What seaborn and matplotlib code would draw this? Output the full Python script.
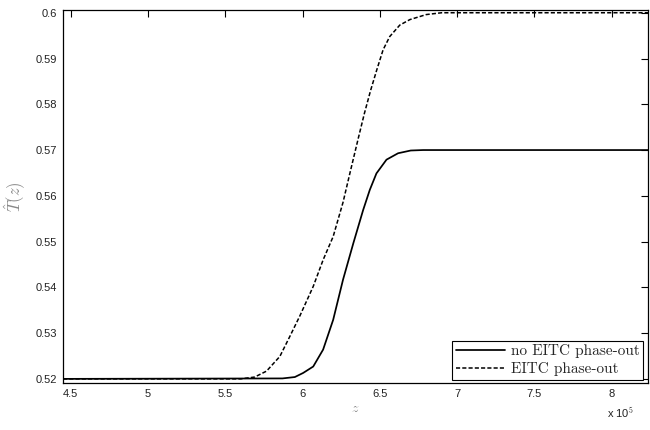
import matplotlib
matplotlib.use("Agg")
import matplotlib.pyplot as plt
import seaborn as sns
import pandas as pd

# z in units of 1e5
z_no_phase = [4.45, 5.87, 5.95, 6.004, 6.069, 6.133, 6.198, 6.262, 6.329, 6.392, 6.435,
              6.478, 6.543, 6.618, 6.70, 6.78, 8.24]
t_no_phase = [0.52, 0.5201, 0.5204, 0.5213, 0.5227, 0.5264, 0.5329, 0.5417, 0.5497, 0.5569, 0.5613,
              0.5649, 0.5679, 0.5693, 0.5699, 0.5700, 0.5700]

z_phase = [4.45, 5.60, 5.69, 5.767, 5.853, 5.918, 5.983, 6.069, 6.133, 6.198, 6.262,
           6.306, 6.36, 6.40, 6.44, 6.48, 6.521, 6.564, 6.629, 6.694, 6.80, 6.90, 8.24]
t_phase = [0.52, 0.52, 0.5204, 0.5217, 0.5249, 0.5293, 0.5338, 0.5402, 0.5460, 0.5511, 0.5586,
           0.5649, 0.5725, 0.5780, 0.5830, 0.5875, 0.5919, 0.5948, 0.5973, 0.5985, 0.5996, 0.60, 0.60]

labels = ["no EITC phase-out", "EITC phase-out"]
xticks = [4.5, 5, 5.5, 6, 6.5, 7, 7.5, 8]
yticks = [0.52, 0.53, 0.54, 0.55, 0.56, 0.57, 0.58, 0.59, 0.60]
xtick_labels = ["4.5", "5", "5.5", "6", "6.5", "7", "7.5", "8"]
ytick_labels = ["0.52", "0.53", "0.54", "0.55", "0.56", "0.57", "0.58", "0.59", "0.6"]

sns.set_theme(style="white")
plt.rcParams["font.family"] = ["Liberation Sans", "DejaVu Sans"]
plt.rcParams["mathtext.fontset"] = "cm"

df1 = pd.DataFrame({"z": z_no_phase, "T": t_no_phase})
df2 = pd.DataFrame({"z": z_phase, "T": t_phase})

fig = plt.figure(figsize=(6.5, 4.3), dpi=100)
ax = fig.add_axes([63/650, 1 - 383/430, 585/650, 373/430])

sns.lineplot(data=df1, x="z", y="T", ax=ax, color="black", linewidth=1.25,
             label=labels[0], sort=False)
sns.lineplot(data=df2, x="z", y="T", ax=ax, color="black", linewidth=1.1,
             label=labels[1], sort=False, linestyle=(0, (2.7, 1.4)))

ax.set_xlim(4.45, 8.235)
ax.set_ylim(0.5191, 0.6006)
ax.set_xticks(xticks)
ax.set_xticklabels(xtick_labels)
ax.set_yticks(yticks)
ax.set_yticklabels(ytick_labels)
ax.tick_params(direction="in", length=5, width=0.8, top=True, right=True,
               labelsize=8, colors="black", labelcolor="#222222", pad=4)
for s in ax.spines.values():
    s.set_visible(True)
    s.set_color("black")
    s.set_linewidth(0.9)

ax.set_xlabel(r"$z$", fontsize=10, color="#888888", labelpad=2)
ax.set_ylabel(r"$\hat{T}(z)$", fontsize=12, color="#888888", labelpad=6)
fig.text(620/650, 1 - 413/430, r"x 10$^5$", fontsize=8, color="#222222",
         ha="center", va="center")

leg = ax.legend(loc="lower right", bbox_to_anchor=(0.992, 0.008), borderaxespad=0,
                fancybox=False, framealpha=1, edgecolor="black",
                prop={"family": "cmr10", "size": 11}, handlelength=3.2,
                handletextpad=0.4, borderpad=0.25, labelspacing=0.25)
leg.get_frame().set_linewidth(0.8)

fig.savefig("out.png", dpi=100)
